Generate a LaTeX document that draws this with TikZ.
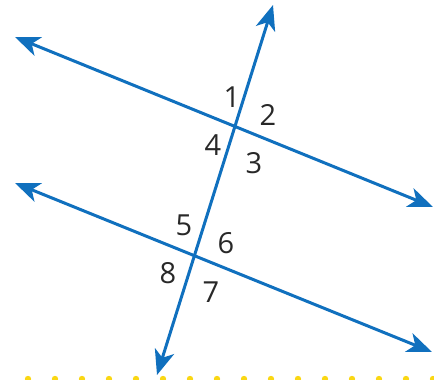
\documentclass[tikz,border=0pt]{standalone}
\usepackage{fontspec}
\setmainfont{Open Sans}
\usetikzlibrary{arrows.meta}
\definecolor{lineblue}{RGB}{16,112,190}
\definecolor{doty}{RGB}{250,215,20}
\definecolor{lbl}{RGB}{40,40,40}
\begin{document}
\begin{tikzpicture}[x=1pt,y=-1pt,
  ray/.style={draw=lineblue,line width=3pt,
    {Stealth[length=25pt,width=20pt,inset=7pt]}-{Stealth[length=25pt,width=20pt,inset=7pt]}},
  lab/.style={font=\fontsize{29}{30}\selectfont,text=lbl,inner sep=0pt}]
\useasboundingbox (0,0) rectangle (434,380);
\coordinate (t1) at (15,37);
\coordinate (t2) at (433,207);
\coordinate (b1) at (15,183);
\coordinate (b2) at (432,352);
\coordinate (s1) at (273,5);
\coordinate (s2) at (157,375);
\foreach \x in {28,55,...,440} \fill[doty] (\x,379) circle (3.2);
\draw[ray] (t1) -- (t2);
\draw[ray] (b1) -- (b2);
\draw[ray] (s2) -- (s1);
\node[lab] (n1) at (232,97) {1};
\node[lab] (n2) at (268,115) {2};
\node[lab] (n3) at (254,163) {3};
\node[lab] (n4) at (213,145) {4};
\node[lab] (n5) at (184,225) {5};
\node[lab] (n6) at (226,243) {6};
\node[lab] (n7) at (211,292) {7};
\node[lab] (n8) at (168,273) {8};
\end{tikzpicture}
\end{document}
